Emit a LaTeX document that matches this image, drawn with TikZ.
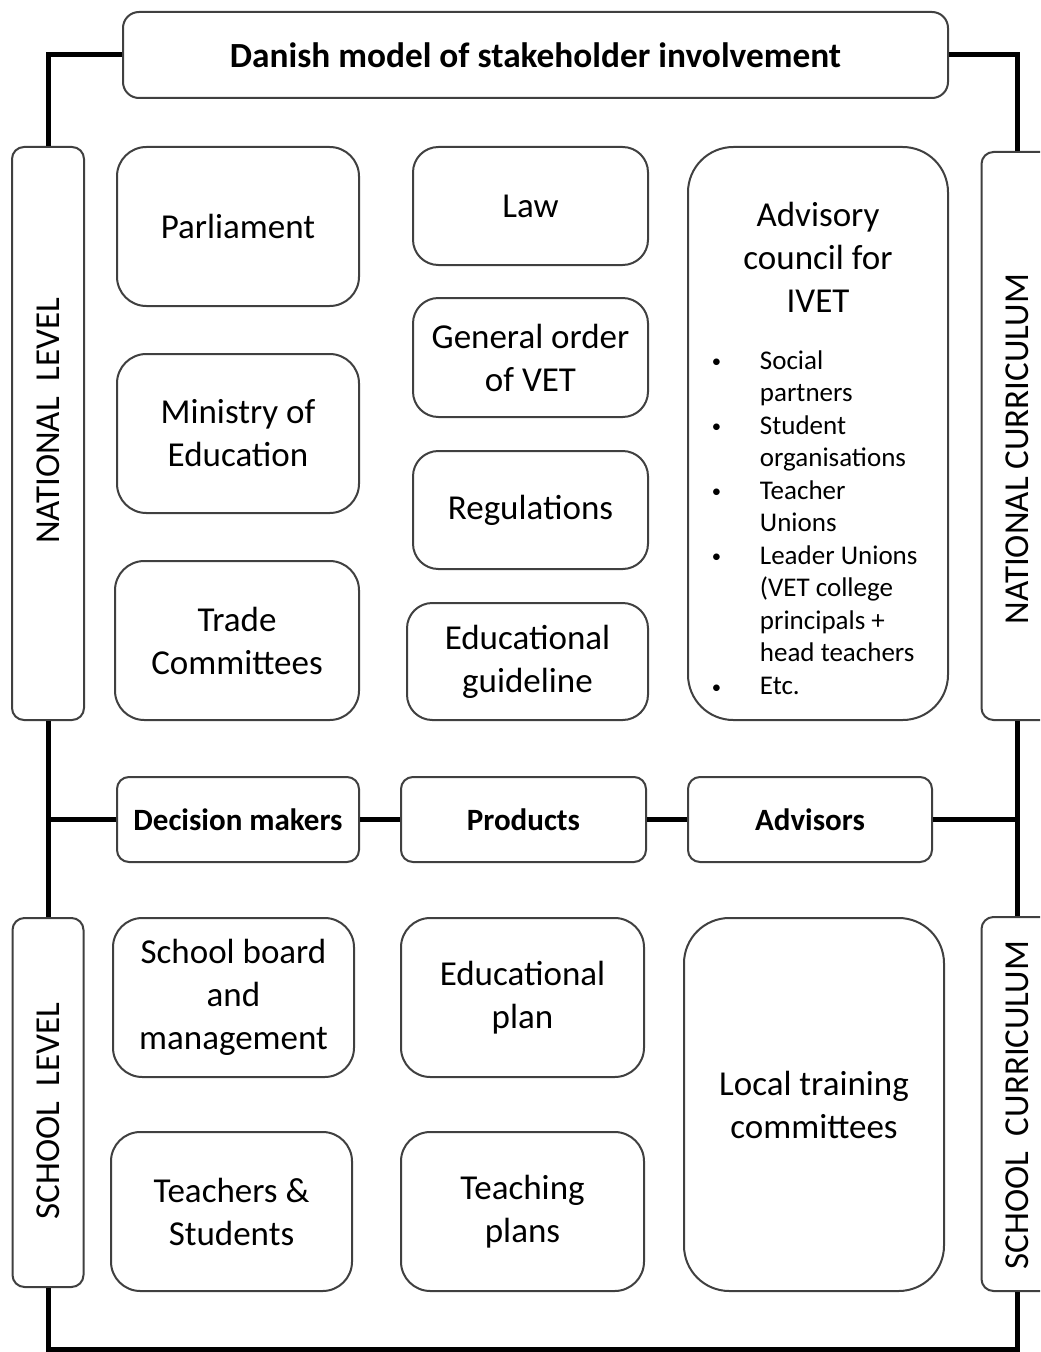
\documentclass[tikz,border=0pt]{standalone}
\usepackage{fontspec}
\setmainfont{Carlito}
\definecolor{edge}{HTML}{404040}
\newcommand\mybul{\makebox[38pt][l]{\hspace*{2pt}\raisebox{1pt}{\fontsize{14}{14}\selectfont\textbullet}}}
\tikzset{
  box/.style={draw=edge, line width=1.5pt, align=center, inner sep=0pt,
    font=\fontsize{26.25}{32.25}\selectfont},
  big/.style={box, rounded corners=22pt},
  mid/.style={box, rounded corners=19pt},
  small/.style={box, rounded corners=9pt, font=\bfseries\fontsize{23.25}{28}\selectfont},
  side/.style={box, rounded corners=9pt},
  sidetext/.style={rotate=90, inner sep=0pt, font=\fontsize{26.25}{32.25}\selectfont},
  conn/.style={line width=3.75pt, black},
}
\begin{document}
\begin{tikzpicture}[x=0.75pt,y=-0.75pt]
\clip (0,0) rectangle (1040,1352);
\fill[white] (0,0) rectangle (1040,1352);
% title
\node[box, rounded corners=12pt, minimum width=618.75pt, minimum height=64.5pt,
  font=\bfseries\fontsize{26.5}{32}\selectfont] (title) at (535.5,55) {Danish model of stakeholder involvement};
% side boxes
\node[side, minimum width=54pt, minimum height=429.75pt] (nl) at (48,433.5) {};
\node[sidetext] (nlt) at (48,421) {NATIONAL\hspace{0.45em}LEVEL};
\node[side, minimum width=53.25pt, minimum height=276.75pt] (sl) at (48,1102.5) {};
\node[sidetext] (slt) at (48,1111) {SCHOOL\hspace{0.45em}LEVEL};
\node[side, minimum width=54pt, minimum height=426pt] (nc) at (1017.5,436) {};
\node[sidetext] (nct) at (1017.5,449) {NATIONAL CURRICULUM};
\node[side, minimum width=54pt, minimum height=280.5pt] (sc) at (1017.5,1104) {};
\node[sidetext] (sct) at (1017.5,1105) {SCHOOL\hspace{0.45em}CURRICULUM};
% column 1
\node[big, minimum width=181.5pt, minimum height=119.25pt] (parl) at (238,226.5) {Parliament};
\node[big, minimum width=181.5pt, minimum height=119.25pt] (min) at (238,433.5) {Ministry of\\Education};
\node[big, minimum width=183pt, minimum height=119.25pt] (trade) at (237,640.5) {Trade\\Committees};
% column 2
\node[mid, minimum width=176.25pt, minimum height=88.5pt] (law) at (530.5,206) {Law};
\node[mid, minimum width=176.25pt, minimum height=89.25pt] (gen) at (530.5,357.5) {General order\\of VET};
\node[mid, minimum width=176.25pt, minimum height=88.5pt] (reg) at (530.5,510) {Regulations};
\node[mid, minimum width=180.75pt, minimum height=87.75pt] (guide) at (527.5,661.5) {Educational\\guideline};
% column 3
\node[box, rounded corners=34pt, minimum width=195pt, minimum height=429.75pt] (adv) at (818,433.5) {};
\node[align=center, inner sep=0pt, font=\fontsize{26.25}{32.25}\selectfont] (advt) at (818,257) {Advisory\\council for\\IVET};
\node[anchor=west, align=left, inner sep=0pt, font=\fontsize{20.25}{24.4}\selectfont] (advl) at (709,522.5)
{\mybul Social\\
\hspace*{38pt}partners\\
\mybul Student\\
\hspace*{38pt}organisations\\
\mybul Teacher\\
\hspace*{38pt}Unions\\
\mybul Leader Unions\\
\hspace*{38pt}(VET college\\
\hspace*{38pt}principals +\\
\hspace*{38pt}head teachers\\
\mybul Etc.};
% middle row
\node[small, minimum width=181.5pt, minimum height=63.75pt] (dm) at (238,819.5) {Decision makers};
\node[small, minimum width=183.75pt, minimum height=63.75pt] (pr) at (523.5,819.5) {Products};
\node[small, minimum width=183pt, minimum height=63.75pt] (ad) at (810,819.5) {Advisors};
% school level
\node[big, minimum width=180.75pt, minimum height=119.25pt] (board) at (233.5,997.5) {School board\\and\\management};
\node[big, minimum width=180.75pt, minimum height=119.25pt] (teach) at (231.5,1211.5) {Teachers \&\\Students};
\node[big, minimum width=182.25pt, minimum height=119.25pt] (eplan) at (522.5,997.5) {Educational\\plan};
\node[big, minimum width=182.25pt, minimum height=119.25pt] (tplan) at (522.5,1211.5) {Teaching\\plans};
\node[box, rounded corners=34pt, minimum width=195pt, minimum height=279.75pt] (local) at (814,1104.5) {Local training\\committees};
% connectors
\coordinate (bot) at (500,1349.5);
\draw[conn] (title.west) -| (nl.north);
\draw[conn] (title.east) -| (nc.north);
\draw[conn] (nl.south) -- (sl.north);
\draw[conn] (nc.south) -- (sc.north);
\draw[conn] (dm.west) -- (dm.west -| nl.south);
\draw[conn] (dm.east) -- (pr.west);
\draw[conn] (pr.east) -- (ad.west);
\draw[conn] (ad.east) -- (ad.east -| nc.south);
\draw[conn] (sl.south) -- (sl.south |- bot) -- (sc.south |- bot) -- (sc.south);
\end{tikzpicture}
\end{document}
